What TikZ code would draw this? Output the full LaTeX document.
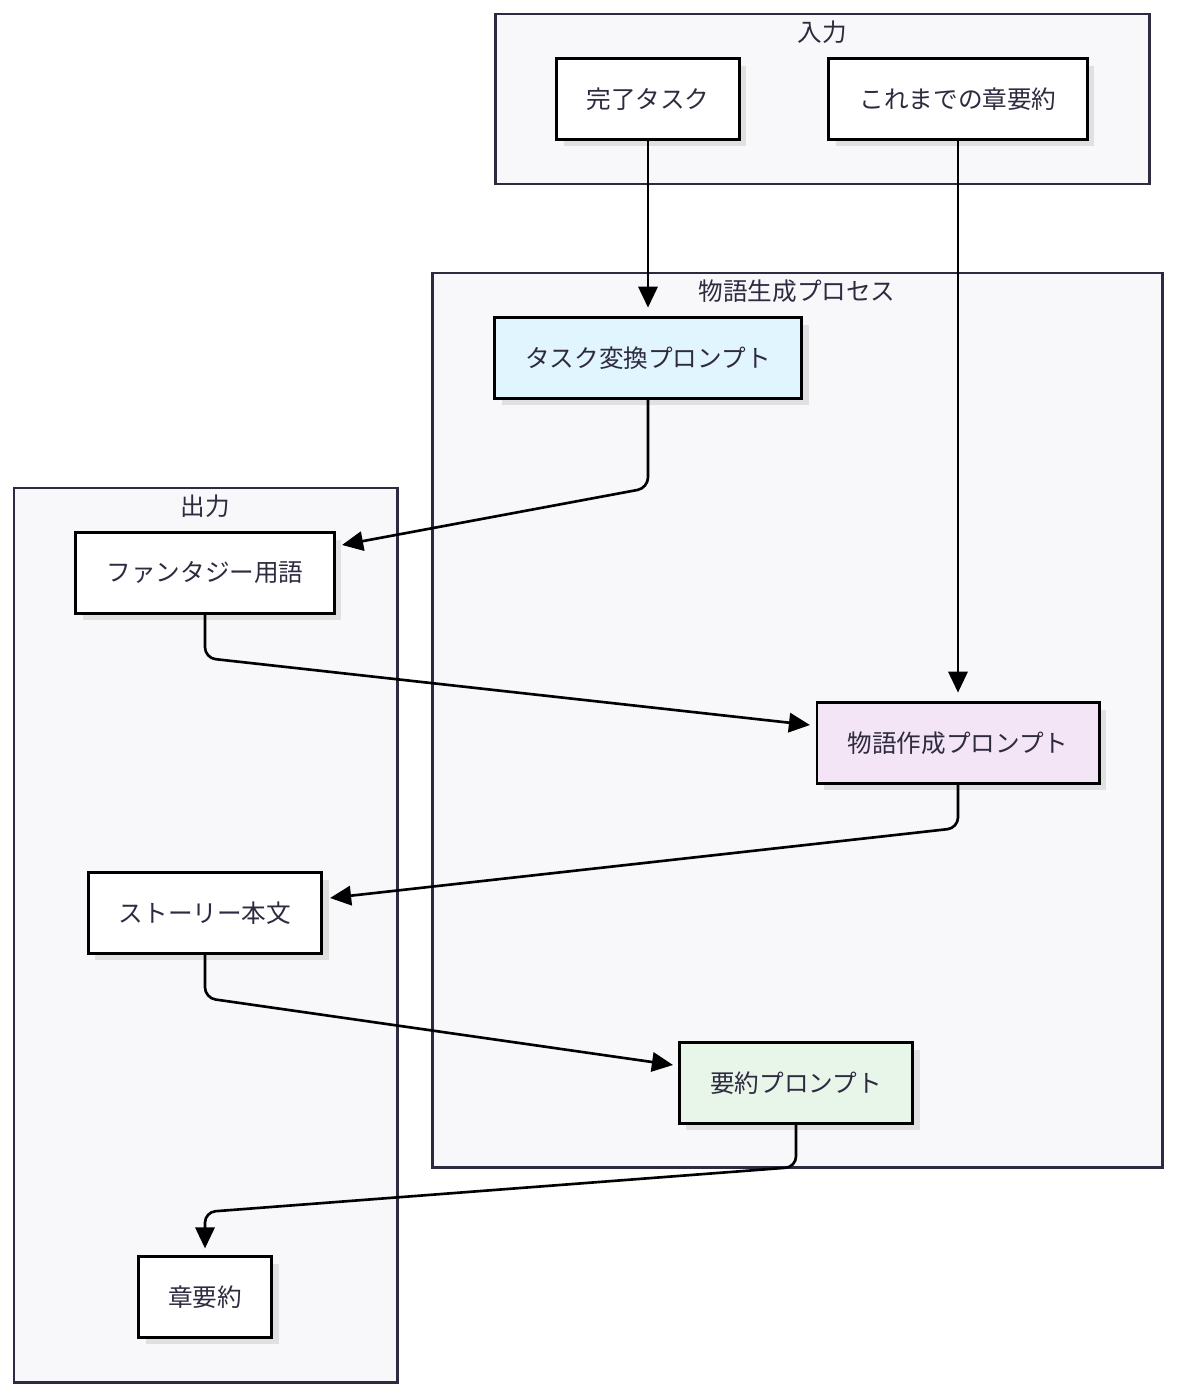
\documentclass[tikz,border=0pt]{standalone}
\usepackage{fontspec}
\setmainfont{Noto Sans CJK JP}
\usetikzlibrary{arrows.meta,shadows}

\definecolor{clusterfill}{HTML}{F8F8FB}
\definecolor{lineclr}{HTML}{2E2A40}
\definecolor{taskfill}{HTML}{E1F5FE}
\definecolor{storyfill}{HTML}{F3E5F5}
\definecolor{sumfill}{HTML}{E8F5E9}

\tikzset{
  cluster/.style={draw=lineclr, line width=0.85pt, fill=clusterfill},
  box/.style={draw=black, line width=0.85pt, fill=white, minimum height=22.8pt,
    inner xsep=8pt, drop shadow={shadow xshift=2pt, shadow yshift=-2pt, fill=black!12, opacity=1}},
  flow/.style={line width=0.75pt, rounded corners=3pt, -{Triangle[length=6pt,width=5.5pt]}},
  lbl/.style={font=\fontsize{7}{8.5}\selectfont, text=lineclr}
}

\begin{document}
\begin{tikzpicture}[x=0.01cm, y=-0.01cm]
\useasboundingbox (0,0) rectangle (1179,1400);

% clusters
\draw[cluster] (495,14) rectangle (1149,184);
\node[lbl] (inlbl) at (822,32) {入力};
\draw[cluster] (432,273) rectangle (1162,1167);
\node[lbl] (proclbl) at (797,291) {物語生成プロセス};
\draw[cluster] (14,488) rectangle (397,1382);
\node[lbl] (outlbl) at (205,506) {出力};

% nodes
\node[box, lbl, minimum width=52pt] (done) at (648,99) {完了タスク};
\node[box, lbl, minimum width=73.4pt] (prev) at (958,99) {これまでの章要約};
\node[box, lbl, fill=taskfill, minimum width=87.3pt] (conv) at (648,358) {タスク変換プロンプト};
\node[box, lbl, minimum width=73.4pt] (terms) at (205,573) {ファンタジー用語};
\node[box, lbl, fill=storyfill, minimum width=80.2pt] (make) at (958,743) {物語作成プロンプト};
\node[box, lbl, minimum width=66.3pt] (story) at (205,913) {ストーリー本文};
\node[box, lbl, fill=sumfill, minimum width=66.3pt] (summ) at (796,1083) {要約プロンプト};
\node[box, lbl, minimum width=37.8pt] (chap) at (205,1297) {章要約};

% connectors
\draw[flow] (done.south) -- ([yshift=2.5pt]conv.north);
\draw[flow] (prev.south) -- ([yshift=2.5pt]make.north);
\draw[flow] (conv.south) -- (648,488) -- (342,545);
\draw[flow] (terms.south) -- (205,658) -- (810,725);
\draw[flow] (make.south) -- (958,828) -- (330,898);
\draw[flow] (story.south) -- (205,998) -- (673,1065);
\draw[flow] (summ.south) -- (796,1167) -- (205,1212) -- ([yshift=2pt]chap.north);
\end{tikzpicture}
\end{document}
